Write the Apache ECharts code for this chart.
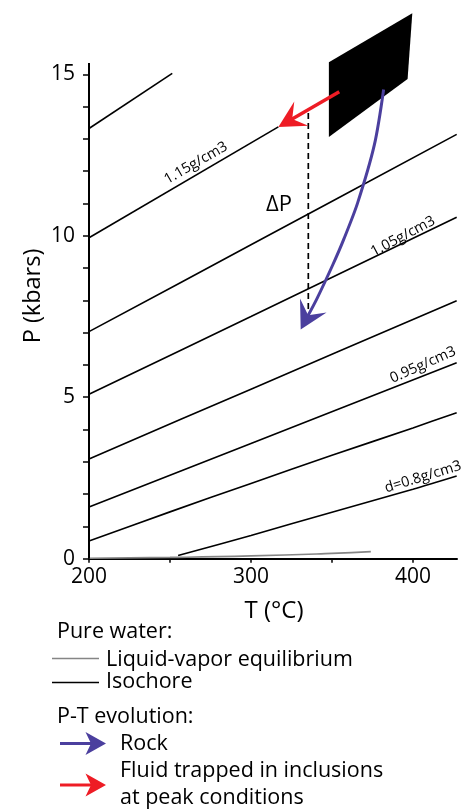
<!DOCTYPE html>
<html><head><meta charset="utf-8">
<script src="https://cdn.jsdelivr.net/npm/echarts@6/dist/echarts.min.js"></script>
<style>html,body{margin:0;padding:0;background:#fff}#c{width:464px;height:811px}</style>
</head><body><div id="c"></div>
<script>
// ---- data ----
const xTickValues = [200, 250, 300, 350, 400];
const xLabelValues = [200, 300, 400];
const yTickValues = [0,1,2,3,4,5,6,7,8,9,10,11,12,13,14,15];
const yLabelValues = [0, 5, 10, 15];
const yAxisTop = 15.35;

// isochores of pure water: [T (°C), P (kbar)]
const iso1 = [[255,0.1],[300,0.72],[350,1.44],[400,2.15],[427,2.56]];          // d=0.8
const iso2 = [[200,0.55],[250,1.45],[300,2.33],[350,3.2],[400,4.05],[427,4.52]];
const iso3 = [[200,1.6],[300,3.57],[427,6.07]];                                   // 0.95
const iso4 = [[200,3.09],[300,5.25],[427,7.99]];
const iso5 = [[200,5.09],[300,7.5],[427,10.57]];                                  // 1.05
const iso6 = [[200,7.03],[300,9.72],[427,13.14]];
const iso7 = [[200,9.94],[316.9,13.37]];                                          // 1.15
const iso8 = [[200,13.32],[251.4,15.03]];

// liquid-vapour equilibrium curve
const lvCurve = [[200,0.016],[250,0.04],[300,0.086],[350,0.165],[374,0.22]];

// isochore labels
const isoLabelText = ['d=0.8g/cm3', '0.95g/cm3', '1.05g/cm3', '1.15g/cm3'];
const isoLabelT = [406.2, 406.2, 393.8, 266.0];
const isoLabelP = [2.53, 6.0, 9.98, 12.25];

// peak conditions field (parallelogram)
const peakT = [348.1, 399.6, 396.7, 348.1];
const peakP = [15.37, 16.89, 14.85, 13.06];

// rock P-T path
const rockT = [381.9, 376.2, 365.8, 357.2, 350.6, 340.9, 330.7];
const rockP = [14.53, 12.82, 11.01, 9.88, 9.11, 8.07, 7.10];

// fluid trapped in inclusions
const fluidT = [354.5, 316.9];
const fluidP = [14.46, 13.37];

// delta P
const deltaT = [335.4, 335.4];
const deltaP = [13.8, 7.7];
const deltaLabel = [317.3, 10.95];

// ---- styles ----
const FONT = "'Open Sans', sans-serif";
const BLUE = '#4b3f9e';
const RED = '#ee1c25';
const GREY = '#858585';
const isoLabelRotate = [17, 24, 28, 30];

function arrowSeries(ts, ps, color, width, L, W, N, smooth) {
  return {
    type: 'custom', coordinateSystem: 'cartesian2d', silent: true, clip: false, z: 5,
    encode: {x: 0, y: 1},
    data: ts.map((t, i) => [t, ps[i]]),
    renderItem: function (params, api) {
      if (params.dataIndex !== 0) return null;
      const pts = ts.map((t, i) => api.coord([t, ps[i]]));
      const tip = pts[pts.length - 1], prev = pts[pts.length - 2];
      let ux = prev[0] - tip[0], uy = prev[1] - tip[1];
      const len = Math.hypot(ux, uy); ux /= len; uy /= len;
      const nx = -uy, ny = ux;
      const shaft = pts.slice(0, -1).concat([[tip[0] + ux * (N - 3), tip[1] + uy * (N - 3)]]);
      return {type: 'group', children: [
        {type: 'polyline', shape: {points: shaft, smooth: smooth}, style: {stroke: color, lineWidth: width, fill: null}},
        {type: 'polygon', shape: {points: [
          tip,
          [tip[0] + ux * L + nx * W, tip[1] + uy * L + ny * W],
          [tip[0] + ux * N, tip[1] + uy * N],
          [tip[0] + ux * L - nx * W, tip[1] + uy * L - ny * W]
        ]}, style: {fill: color}}
      ]};
    }
  };
}

function isoSeries(d) {
  return {type: 'line', data: d, symbol: 'none', silent: true, clip: false, smooth: 0.3,
    lineStyle: {color: '#000', width: 1.6}, z: 3};
}

const chart = echarts.init(document.getElementById('c'), null, {renderer: 'canvas'});

const labelItemStyle = {color: 'rgba(0,0,0,0)', opacity: 1};

const series = [
  isoSeries(iso1), isoSeries(iso2), isoSeries(iso3), isoSeries(iso4),
  isoSeries(iso5), isoSeries(iso6), isoSeries(iso7), isoSeries(iso8),
  {type: 'line', data: lvCurve, smooth: true, symbol: 'none', silent: true, clip: false,
    lineStyle: {color: GREY, width: 1.6}, z: 4},
  // y axis line (stops at ~15.35)
  {type: 'line', data: [[200, 0], [200, yAxisTop]], symbol: 'none', silent: true, clip: false,
    lineStyle: {color: '#000', width: 2}, z: 6},
  // isochore labels
  {type: 'scatter', silent: true, symbolSize: 1, itemStyle: labelItemStyle, z: 7,
    data: isoLabelText.map((t, i) => ({
      value: [isoLabelT[i], isoLabelP[i]],
      label: {show: true, position: 'inside', formatter: t, rotate: isoLabelRotate[i],
        fontFamily: FONT, fontSize: 14.5, color: '#000', opacity: 1, textBorderWidth: 0}
    }))},
  // delta P label
  {type: 'scatter', silent: true, symbolSize: 1, itemStyle: labelItemStyle, z: 7,
    data: [{value: deltaLabel, label: {show: true, position: 'inside', formatter: 'ΔP',
      fontFamily: FONT, fontSize: 22, color: '#000', opacity: 1, textBorderWidth: 0}}]},
  // dashed delta P line
  {type: 'line', data: deltaT.map((t, i) => [t, deltaP[i]]), symbol: 'none', silent: true,
    lineStyle: {color: '#000', width: 1.7, type: [6, 4]}, z: 4},
  // peak field
  {type: 'custom', coordinateSystem: 'cartesian2d', silent: true, clip: false, z: 4,
    encode: {x: 0, y: 1},
    data: peakT.map((t, i) => [t, peakP[i]]),
    renderItem: function (params, api) {
      if (params.dataIndex !== 0) return null;
      return {type: 'polygon', shape: {points: peakT.map((t, i) => api.coord([t, peakP[i]]))},
        style: {fill: '#000'}};
    }},
  arrowSeries(fluidT, fluidP, RED, 3.5, 26.5, 14, 16, 0),
  arrowSeries(rockT, rockP, BLUE, 3, 27, 15, 16, 0.3)
];

// legend drawn as graphics
function legendArrow(x0, x1, y, color) {
  return [
    {type: 'line', shape: {x1: x0, y1: y, x2: x1 - 14, y2: y}, style: {stroke: color, lineWidth: 3}},
    {type: 'polygon', shape: {points: [[x1, y], [x1 - 20.5, y - 11.5], [x1 - 15, y], [x1 - 20.5, y + 11.5]]},
      style: {fill: color}}
  ];
}
function txt(x, y, s, size, align) {
  return {type: 'text', x: x, y: y,
    style: {text: s, fontFamily: FONT, fontSize: size, fill: '#000', align: align || 'left', verticalAlign: 'middle'}};
}

const yName = txt(33, 296, 'P (kbars)', 23.5, 'center');
yName.rotation = Math.PI / 2;

const graphic = [
  yName,
  txt(274, 611, 'T (°C)', 24, 'center'),
  txt(57, 632, 'Pure water:', 21.5),
  {type: 'line', shape: {x1: 52, y1: 658.5, x2: 99, y2: 658.5}, style: {stroke: GREY, lineWidth: 1.6}},
  txt(106, 660, 'Liquid-vapor equilibrium', 21.5),
  {type: 'line', shape: {x1: 52, y1: 682.5, x2: 99, y2: 682.5}, style: {stroke: '#000', lineWidth: 1.6}},
  txt(106, 682, 'Isochore', 21.5),
  txt(57, 717, 'P-T evolution:', 21.5),
  ...legendArrow(60, 106, 743.5, BLUE),
  txt(120, 744, 'Rock', 21.5),
  ...legendArrow(60, 106, 785, RED),
  txt(120, 771, 'Fluid trapped in inclusions', 21.5),
  txt(120, 798, 'at peak conditions', 21.5)
];

chart.setOption({
  animation: false,
  backgroundColor: '#fff',
  grid: {left: 89, right: 7, top: 0, bottom: 252.3, containLabel: false},
  xAxis: {
    type: 'value', min: 200, max: 427.2,
    axisLine: {show: true, onZero: false, lineStyle: {color: '#000', width: 2}},
    axisTick: {show: true, customValues: xTickValues, length: 4, inside: false, lineStyle: {color: '#000', width: 1.5}},
    axisLabel: {show: true, customValues: xLabelValues, margin: 8, fontFamily: FONT, fontSize: 21, color: '#000'},
    splitLine: {show: false}
  },
  yAxis: {
    type: 'value', min: 0, max: 17.3,
    axisLine: {show: false},
    axisTick: {show: true, customValues: yTickValues, length: 6, inside: false, lineStyle: {color: '#000', width: 1.5}},
    axisLabel: {show: true, customValues: yLabelValues, margin: 14, fontFamily: FONT, fontSize: 21, color: '#000'},
    splitLine: {show: false}
  },
  series: series,
  graphic: graphic
});
</script>
</body></html>
